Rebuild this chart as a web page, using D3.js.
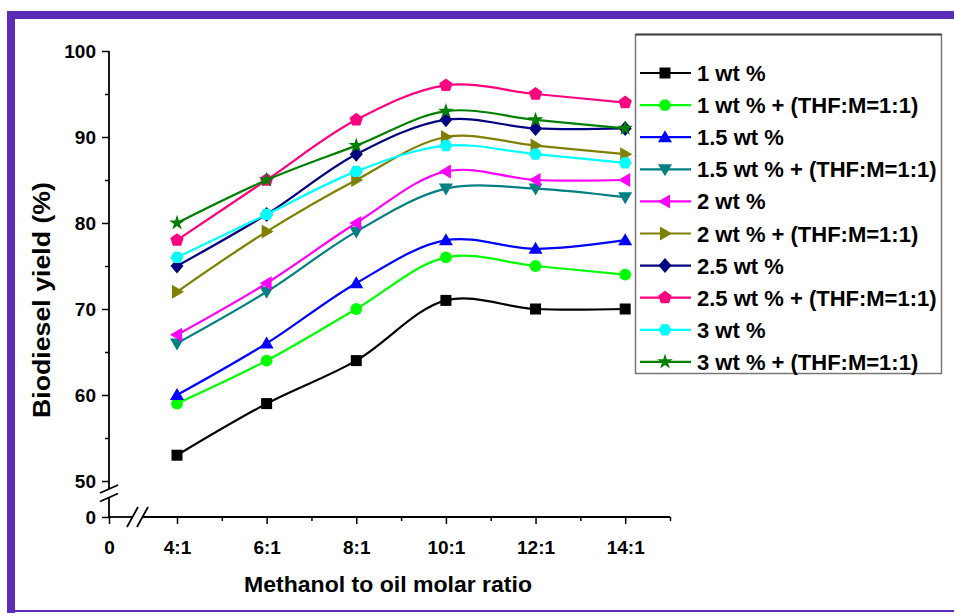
<!DOCTYPE html>
<html>
<head>
<meta charset="utf-8">
<title>Biodiesel yield</title>
<script src="https://d3js.org/d3.v7.min.js"></script>
<style>
  body { margin: 0; background: #fff; }
  svg text { font-family: Arial, "Liberation Sans", sans-serif; font-weight: bold; fill: #000; }
</style>
</head>
<body>
<script>
// data
var ratios = [4, 6, 8, 10, 12, 14];
var xTickValues = [0, 4, 6, 8, 10, 12, 14];
var xTickLabels = ['0', '4:1', '6:1', '8:1', '10:1', '12:1', '14:1'];
var xMinorTicks = [5, 7, 9, 11, 13, 15];
var yTickValues = [0, 50, 60, 70, 80, 90, 100];
var yMinorTicks = [55, 65, 75, 85, 95];

var seriesNames = ['1 wt %', '1 wt % + (THF:M=1:1)', '1.5 wt %', '1.5 wt % + (THF:M=1:1)',
  '2 wt %', '2 wt % + (THF:M=1:1)', '2.5 wt %', '2.5 wt % + (THF:M=1:1)',
  '3 wt %', '3 wt % + (THF:M=1:1)'];
var seriesColors = ['#000000', '#00ff00', '#0000ff', '#008080', '#ff00ff',
  '#808000', '#000080', '#ff0080', '#00ffff', '#008000'];
var seriesShapes = ['square', 'circle', 'up', 'down', 'left', 'right', 'diamond', 'pentagon', 'hexagon', 'star'];

var wt1 = [53, 59, 64, 71, 70, 70];
var wt1THF = [59, 64, 70, 76, 75, 74];
var wt15 = [60, 66, 73, 78, 77, 78];
var wt15THF = [66, 72, 79, 84, 84, 83];
var wt2 = [67, 73, 80, 86, 85, 85];
var wt2THF = [72, 79, 85, 90, 89, 88];
var wt25 = [75, 81, 88, 92, 91, 91];
var wt25THF = [78, 85, 92, 96, 95, 94];
var wt3 = [76, 81, 86, 89, 88, 87];
var wt3THF = [80, 85, 89, 93, 92, 91];
var seriesValues = [wt1, wt1THF, wt15, wt15THF, wt2, wt2THF, wt25, wt25THF, wt3, wt3THF];

var W = 954, H = 613;
var svg = d3.select('body').append('svg')
  .attr('width', W)
  .attr('height', H);

// purple frame
var purple = '#5b2db6';
svg.append('rect').attr('x', 7).attr('y', 11).attr('width', W - 7).attr('height', 8).attr('fill', purple);
svg.append('rect').attr('x', 7).attr('y', 11).attr('width', 8).attr('height', H - 11).attr('fill', purple);
svg.append('rect').attr('x', 7).attr('y', 610).attr('width', W - 7).attr('height', 2).attr('fill', purple);

// broken scales
var x = d3.scaleLinear().domain([0, 4, 15]).range([109, 177, 670]);
var y = d3.scaleLinear().domain([0, 50, 100]).range([517, 481, 51]);

var axisColor = '#000';

// y axis
var yAxis = svg.append('g')
  .attr('transform', 'translate(' + x(0) + ',0)')
  .call(d3.axisLeft(y).tickValues(yTickValues).tickSize(7).tickPadding(6).tickFormat(d3.format('d')));
yAxis.select('.domain').remove();
yAxis.selectAll('text').style('font-size', '19px');
yAxis.selectAll('line').attr('stroke-width', 1.5);
var yMinor = svg.append('g')
  .attr('transform', 'translate(' + x(0) + ',0)')
  .call(d3.axisLeft(y).tickValues(yMinorTicks).tickSize(4).tickFormat(''));
yMinor.select('.domain').remove();
yMinor.selectAll('line').attr('stroke-width', 1.5);

// x axis
var xAxis = svg.append('g')
  .attr('transform', 'translate(0,' + y(0) + ')')
  .call(d3.axisBottom(x).tickValues(xTickValues).tickSize(7).tickPadding(17)
    .tickFormat(function (d, i) { return xTickLabels[i]; }));
xAxis.select('.domain').remove();
xAxis.selectAll('text').style('font-size', '19px');
xAxis.selectAll('line').attr('stroke-width', 1.5);
var xMinor = svg.append('g')
  .attr('transform', 'translate(0,' + y(0) + ')')
  .call(d3.axisBottom(x).tickValues(xMinorTicks).tickSize(4).tickFormat(''));
xMinor.select('.domain').remove();
xMinor.selectAll('line').attr('stroke-width', 1.5);

// axis lines with breaks
var x0 = x(0), y0 = y(0);
var yb1 = 489, yb2 = 497.5;
var xb1 = 132.5, xb2 = 142.5;
var ax = svg.append('g').attr('stroke', axisColor).attr('stroke-width', 1.8).attr('fill', 'none');
ax.append('line').attr('x1', x0).attr('x2', x0).attr('y1', y(100)).attr('y2', yb1);
ax.append('line').attr('x1', x0).attr('x2', x0).attr('y1', yb2).attr('y2', y0);
ax.append('line').attr('x1', x0).attr('x2', xb1).attr('y1', y0).attr('y2', y0);
ax.append('line').attr('x1', xb2).attr('x2', x(15)).attr('y1', y0).attr('y2', y0);
[yb1, yb2].forEach(function (yy) {
  ax.append('line').attr('x1', x0 - 9).attr('y1', yy + 4).attr('x2', x0 + 9).attr('y2', yy - 4);
});
[xb1, xb2].forEach(function (xx) {
  ax.append('line').attr('x1', xx - 5.5).attr('y1', y0 + 10).attr('x2', xx + 5.5).attr('y2', y0 - 10);
});

// axis titles
svg.append('text')
  .attr('x', 388).attr('y', 592)
  .attr('text-anchor', 'middle')
  .attr('textLength', 288).attr('lengthAdjust', 'spacingAndGlyphs')
  .style('font-size', '22px')
  .text('Methanol to oil molar ratio');
svg.append('text')
  .attr('transform', 'translate(50,300) rotate(-90)')
  .attr('text-anchor', 'middle')
  .attr('textLength', 236).attr('lengthAdjust', 'spacingAndGlyphs')
  .style('font-size', '23px')
  .text('Biodiesel yield (%)');

// marker shapes
function polygon(pts) {
  return 'M' + pts.map(function (p) { return p[0].toFixed(2) + ',' + p[1].toFixed(2); }).join('L') + 'Z';
}
function regular(n, r, start) {
  var pts = [];
  for (var k = 0; k < n; k++) {
    var a = (start + k * 360 / n) * Math.PI / 180;
    pts.push([r * Math.cos(a), r * Math.sin(a)]);
  }
  return polygon(pts);
}
function shapePath(name) {
  switch (name) {
    case 'square': return polygon([[-5.5, -5.5], [5.5, -5.5], [5.5, 5.5], [-5.5, 5.5]]);
    case 'circle': return d3.symbol(d3.symbolCircle, 110)();
    case 'up': return polygon([[0, -7], [7, 5], [-7, 5]]);
    case 'down': return polygon([[0, 7], [7, -5], [-7, -5]]);
    case 'left': return polygon([[-7, 0], [5, -7], [5, 7]]);
    case 'right': return polygon([[7, 0], [-5, -7], [-5, 7]]);
    case 'diamond': return polygon([[0, -7.5], [6.5, 0], [0, 7.5], [-6.5, 0]]);
    case 'pentagon': return regular(5, 7, -90);
    case 'hexagon': return regular(6, 6.5, 0);
    case 'star': return d3.symbol(d3.symbolStar, 75)();
  }
}

// series
var line = d3.line()
  .x(function (d, i) { return x(ratios[i]); })
  .y(function (d) { return y(d); })
  .curve(d3.curveCatmullRom.alpha(0.5));

var plot = svg.append('g');
seriesValues.forEach(function (vals, s) {
  var g = plot.append('g');
  g.append('path')
    .attr('d', line(vals))
    .attr('fill', 'none')
    .attr('stroke', seriesColors[s])
    .attr('stroke-width', 2.2);
  g.selectAll('path.mk')
    .data(vals)
    .enter()
    .append('path')
    .attr('class', 'mk')
    .attr('d', shapePath(seriesShapes[s]))
    .attr('transform', function (d, i) { return 'translate(' + x(ratios[i]) + ',' + y(d) + ')'; })
    .attr('fill', seriesColors[s]);
});

// legend
var legend = svg.append('g');
legend.append('rect')
  .attr('x', 635.5).attr('y', 34.5).attr('width', 306).attr('height', 339)
  .attr('fill', '#fff').attr('stroke', '#777').attr('stroke-width', 1.5);
legend.append('line')
  .attr('x1', 635.5).attr('x2', 941.5).attr('y1', 34.5).attr('y2', 34.5)
  .attr('stroke', '#444').attr('stroke-width', 2);
seriesNames.forEach(function (name, s) {
  var ly = 73 + s * 32.1;
  legend.append('line')
    .attr('x1', 640).attr('x2', 691).attr('y1', ly).attr('y2', ly)
    .attr('stroke', seriesColors[s]).attr('stroke-width', 2.2);
  legend.append('path')
    .attr('d', shapePath(seriesShapes[s]))
    .attr('transform', 'translate(665,' + ly + ')')
    .attr('fill', seriesColors[s]);
  legend.append('text')
    .attr('x', 697).attr('y', ly + 8)
    .style('font-size', '22px')
    .text(name);
});
</script>
</body>
</html>
